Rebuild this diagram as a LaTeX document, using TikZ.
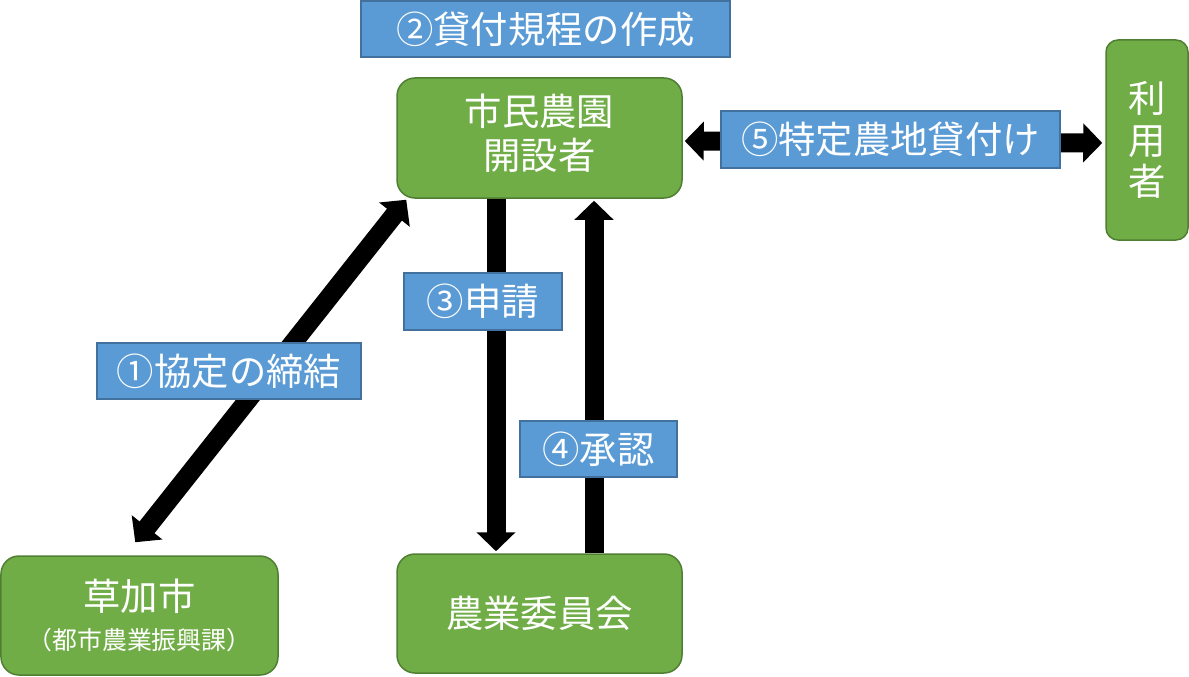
\documentclass[tikz,border=0pt]{standalone}
\usepackage{fontspec}
\setmainfont{Noto Sans CJK JP}
\usetikzlibrary{arrows.meta}
\definecolor{gfill}{HTML}{70AD47}
\definecolor{gdraw}{HTML}{507E32}
\definecolor{bfill}{HTML}{5B9BD5}
\definecolor{bdraw}{HTML}{41719C}
\tikzset{
  gbox/.style={draw=gdraw, fill=gfill, line width=1.5bp, rounded corners=18bp, text=white, align=center, inner sep=0pt, font=\fontsize{37.5}{42}\selectfont},
  lbl/.style={draw=bdraw, fill=bfill, line width=2bp, text=white, inner sep=0pt, font=\fontsize{37.5}{42}\selectfont},
  bigarrow/.style={line width=19bp, draw=black},
  headE/.style={-{Triangle[length=19bp,width=38bp]}},
  headB/.style={{Triangle[length=19bp,width=38bp]}-{Triangle[length=19bp,width=38bp]}},
}
\begin{document}
\begin{tikzpicture}[x=1bp,y=-1bp]
\useasboundingbox (0,0) rectangle (1189,677);
% nodes
\node[gbox, minimum width=285bp, minimum height=120bp] (kaisetsu) at (539.5,138) {\raisebox{4bp}{\begin{tabular}{@{}c@{}}市民農園\\開設者\end{tabular}}};
\node[gbox, minimum width=82bp, minimum height=200bp, rounded corners=12bp] (riyou) at (1147,140) {利\\用\\者};
\node[gbox, minimum width=277bp, minimum height=119bp] (soka) at (139.5,615.5) {草加市\\[-3bp]{\fontsize{25}{28}\selectfont（都市農業振興課）}};
\node[gbox, minimum width=285bp, minimum height=119bp] (nogyo) at (539.5,613.5) {農業委員会};
% connectors
\draw[bigarrow, headB, shorten <=2bp, shorten >=3bp] ([yshift=-3bp]kaisetsu.east) -- ([yshift=-3bp]riyou.west);
\draw[bigarrow, headB] ([xshift=10bp,yshift=-1bp]kaisetsu.south west) -- ([xshift=135bp,yshift=13bp]soka.north west);
\draw[bigarrow, headE, shorten >=2bp] (kaisetsu.south -| 496,0) -- (nogyo.north -| 496,0);
\draw[bigarrow, headE, shorten >=2bp] (nogyo.north -| 594,0) -- (kaisetsu.south -| 594,0);
% labels
\node[lbl, minimum width=369bp, minimum height=56bp] (l2) at (545.5,29) {②貸付規程の作成};
\node[lbl, minimum width=339bp, minimum height=57bp] (l5) at (890.5,139.5) {⑤特定農地貸付け};
\node[lbl, minimum width=264bp, minimum height=56bp] (l1) at (229,371) {①協定の締結};
\node[lbl, minimum width=158bp, minimum height=57bp] (l3) at (483,301.5) {③申請};
\node[lbl, minimum width=157bp, minimum height=56bp] (l4) at (598.5,449) {④承認};
\end{tikzpicture}
\end{document}
